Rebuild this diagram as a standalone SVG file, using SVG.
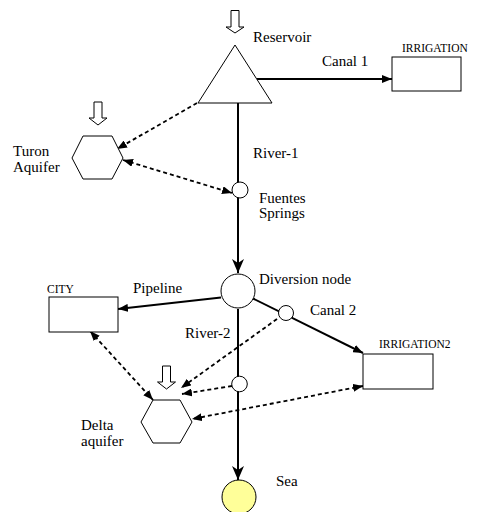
<svg xmlns="http://www.w3.org/2000/svg" width="477" height="512" viewBox="0 0 477 512">
<style>
.lbl{font-family:"Liberation Serif","Times New Roman",serif;font-size:15px;fill:#000}
.sm{font-family:"Liberation Serif","Times New Roman",serif;font-size:11.5px;fill:#000}
.shape{fill:#fff;stroke:#000;stroke-width:1}
.solid{fill:none;stroke:#000;stroke-width:2}
.dash{fill:none;stroke:#000;stroke-width:1.8;stroke-dasharray:4,3}
.inflow{fill:#fff;stroke:#000;stroke-width:1}
</style>
<defs>
<marker id="stealth" viewBox="0 0 14 12" refX="14" refY="6" markerWidth="14" markerHeight="12" markerUnits="userSpaceOnUse" orient="auto">
<path d="M0,0 L14,6 L0,12 L4,6 Z" fill="#000"/>
</marker>
<marker id="tri" viewBox="0 0 10 8" refX="10" refY="4" markerWidth="10" markerHeight="8" markerUnits="userSpaceOnUse" orient="auto">
<path d="M0,0 L10,4 L0,8 Z" fill="#000"/>
</marker>
<marker id="dtri" viewBox="0 0 10 8" refX="10" refY="4" markerWidth="10" markerHeight="8" markerUnits="userSpaceOnUse" orient="auto-start-reverse">
<path d="M0,0 L10,4 L0,8 Z" fill="#000"/>
</marker>
</defs>
<g id="connectors">
<path class="solid" d="M238,103 L238,273" marker-end="url(#stealth)"/>
<path class="solid" d="M238,309 L238,480" marker-end="url(#stealth)"/>
<path class="solid" d="M257,79 L392,79" marker-end="url(#tri)"/>
<path class="solid" d="M221,297.5 L118,309" marker-end="url(#tri)"/>
<path class="solid" d="M253,298.5 L363,353" marker-end="url(#tri)"/>
<path class="dash" d="M197,103 L117,149" marker-end="url(#dtri)"/>
<path class="dash" d="M123,160 L232,193" marker-start="url(#dtri)" marker-end="url(#dtri)"/>
<path class="dash" d="M90,331 L153,400" marker-start="url(#dtri)" marker-end="url(#dtri)"/>
<path class="dash" d="M277,319 L181,388" marker-end="url(#dtri)"/>
<path class="dash" d="M232,386 L182,394" marker-end="url(#dtri)"/>
<path class="dash" d="M363,386 L192,419" marker-start="url(#dtri)" marker-end="url(#dtri)"/>
</g>
<g id="reservoir">
<polygon class="inflow" points="231,10.5 239,10.5 239,27 244,27 235,33 226,27 231,27"/>
<polygon class="shape" points="235,45 198,103 272,103"/>
<text class="lbl" x="253" y="42">Reservoir</text>
</g>
<g id="canal1-label"><text class="lbl" x="322" y="66">Canal 1</text></g>
<g id="irrigation">
<rect class="shape" x="392" y="57" width="69" height="34"/>
<text class="sm" x="402" y="52">IRRIGATION</text>
</g>
<g id="turon-aquifer">
<polygon class="inflow" points="94,102 102,102 102,118 107,118 98,125 89,118 94,118"/>
<polygon class="shape" points="72,158 83,136 112,136 123,158 112,179 83,179"/>
<text class="lbl" x="13" y="156">Turon</text>
<text class="lbl" x="13" y="172">Aquifer</text>
</g>
<g id="river1-label"><text class="lbl" x="253" y="158">River-1</text></g>
<g id="fuentes-springs">
<circle class="shape" cx="240" cy="190" r="8"/>
<text class="lbl" x="259" y="203">Fuentes</text>
<text class="lbl" x="259" y="218">Springs</text>
</g>
<g id="diversion-node">
<circle class="shape" cx="238" cy="291" r="17"/>
<text class="lbl" x="259" y="284">Diversion node</text>
</g>
<g id="city">
<rect class="shape" x="49" y="297" width="69" height="35"/>
<text class="sm" x="47" y="293">CITY</text>
</g>
<g id="pipeline-label"><text class="lbl" x="133" y="293">Pipeline</text></g>
<g id="canal2-node">
<circle class="shape" cx="286" cy="313" r="7.5"/>
<text class="lbl" x="310" y="315">Canal 2</text>
</g>
<g id="river2-label"><text class="lbl" x="185" y="338">River-2</text></g>
<g id="irrigation2">
<rect class="shape" x="363" y="354" width="70" height="35"/>
<text class="sm" x="379" y="348">IRRIGATION2</text>
</g>
<g id="river2-node">
<circle class="shape" cx="239.5" cy="384" r="7.8"/>
</g>
<g id="delta-aquifer">
<polygon class="inflow" points="162.5,366 170.5,366 170.5,382 175.5,382 166.5,389 157.5,382 162.5,382"/>
<polygon class="shape" points="141,422 153,400 180,400 192,422 180,443 153,443"/>
<text class="lbl" x="81" y="430">Delta</text>
<text class="lbl" x="81" y="446">aquifer</text>
</g>
<g id="sea">
<circle cx="239" cy="497" r="17" fill="#FFFF99" stroke="#000" stroke-width="1"/>
<text class="lbl" x="276" y="486">Sea</text>
</g>
</svg>
